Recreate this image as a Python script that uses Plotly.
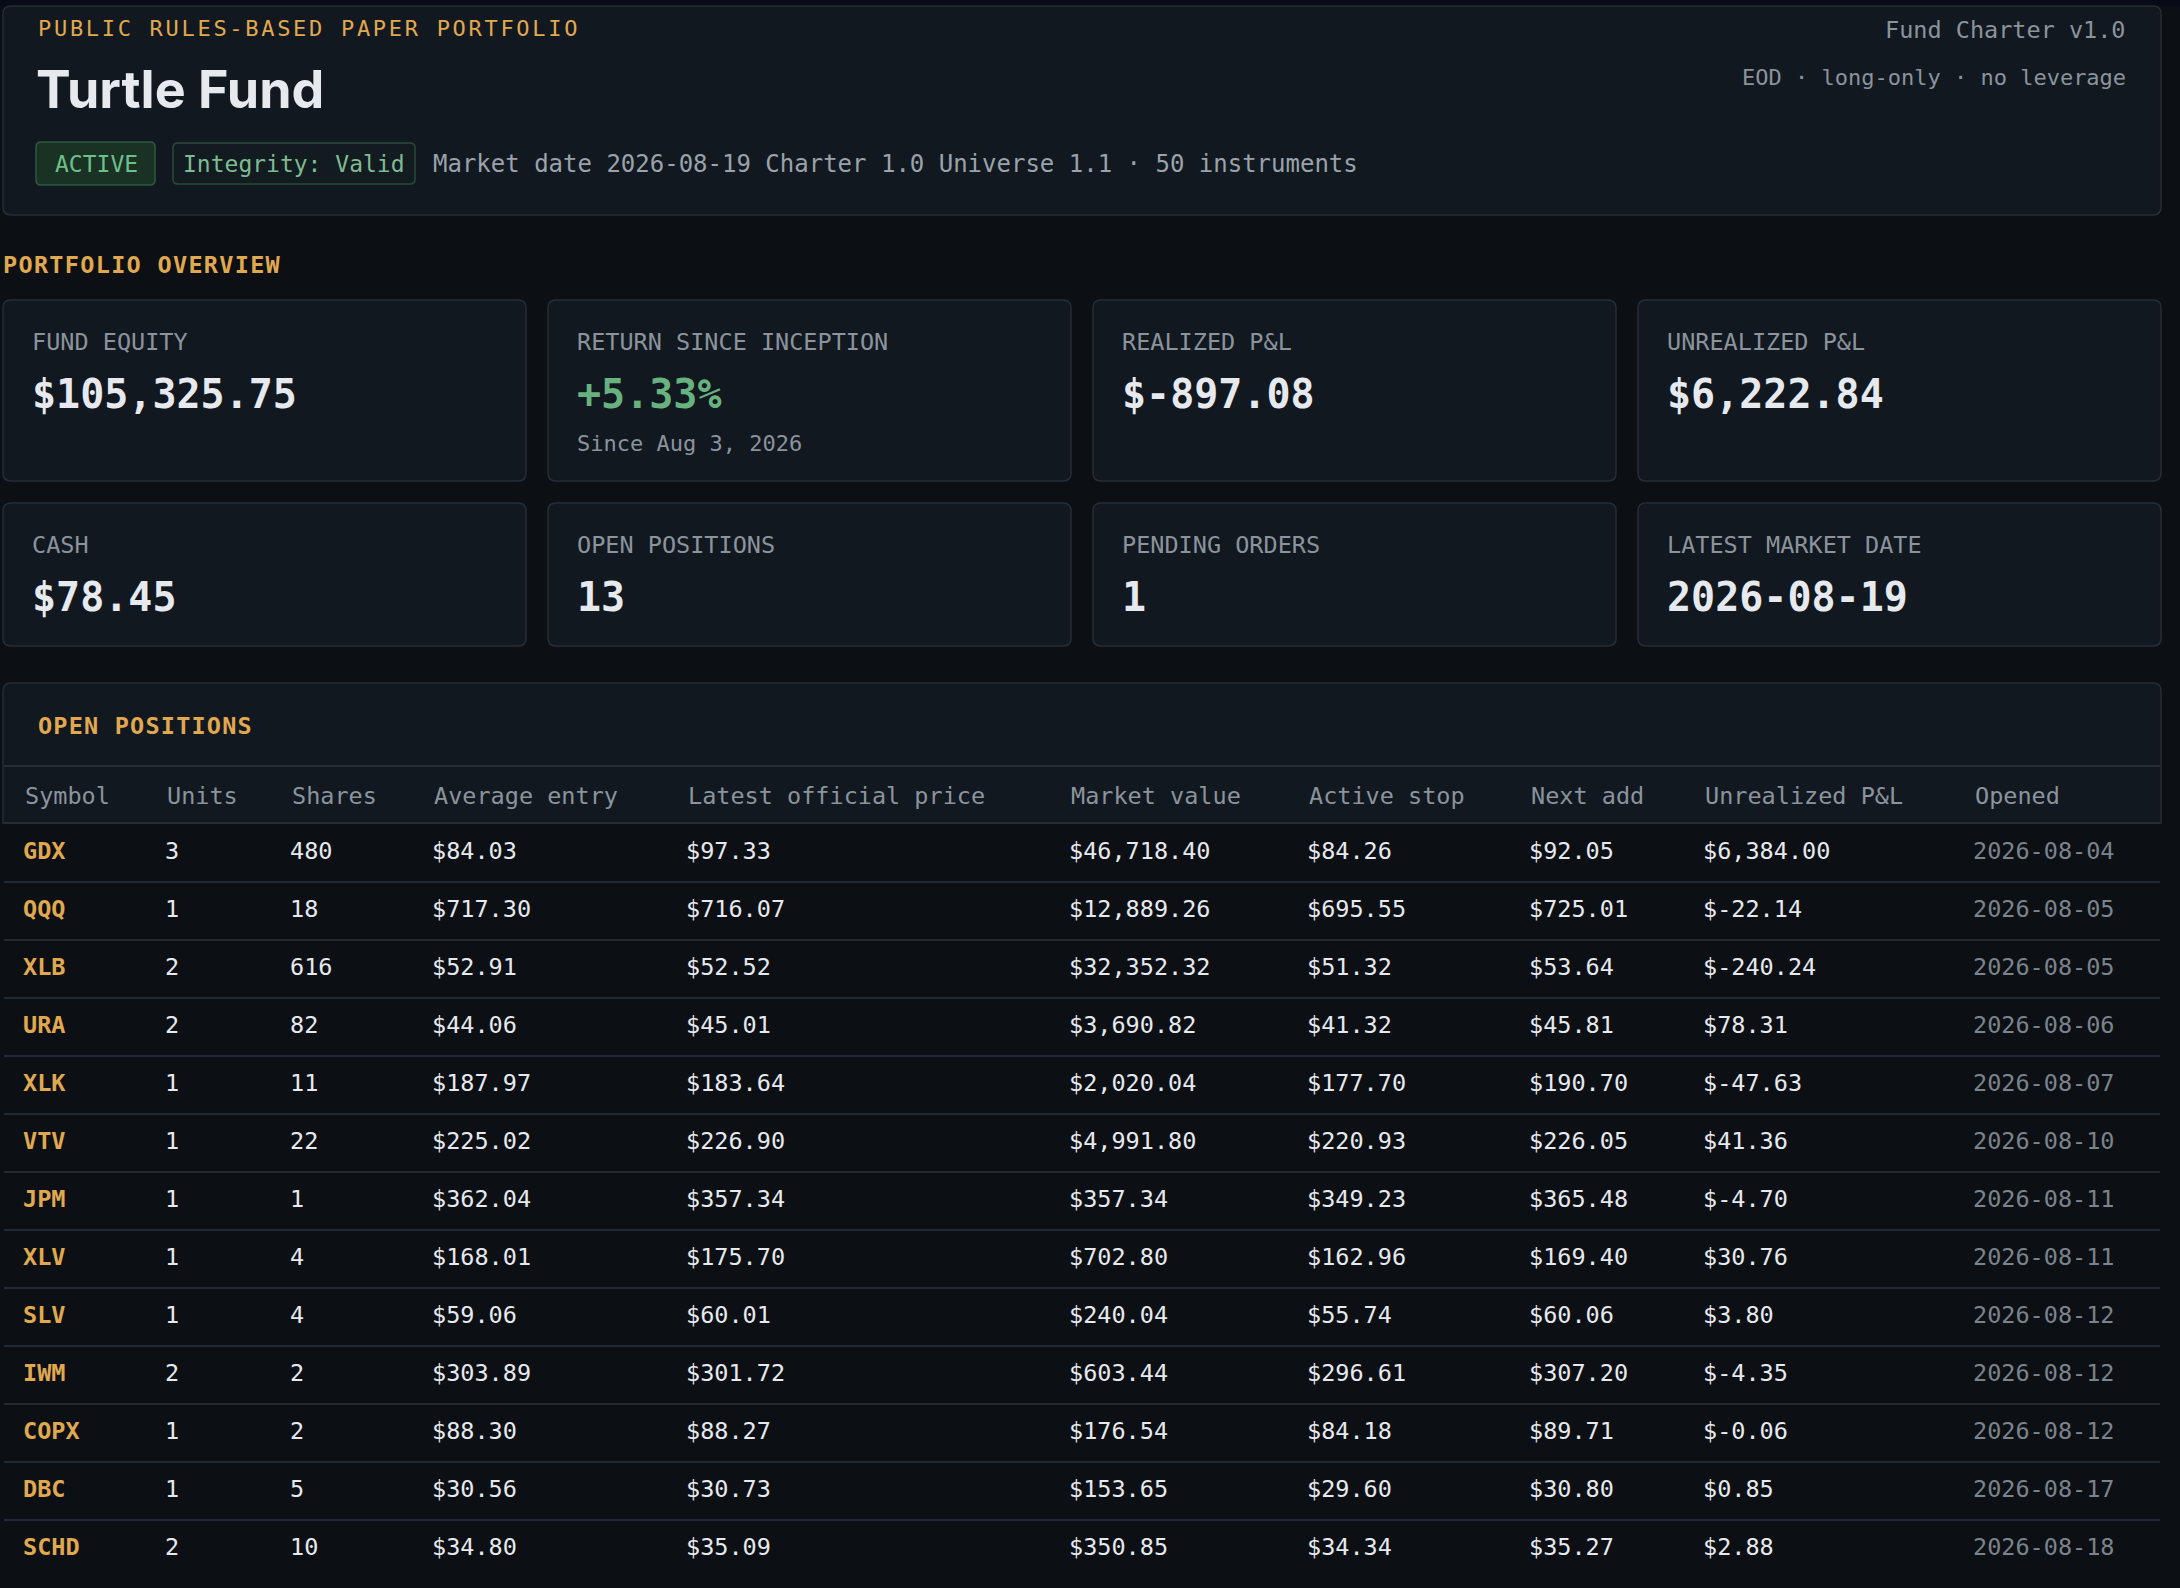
import plotly.graph_objects as go

# ---------------- data ----------------
symbols = ["GDX", "QQQ", "XLB", "URA", "XLK", "VTV", "JPM", "XLV", "SLV", "IWM", "COPX", "DBC", "SCHD"]
units = [3, 1, 2, 2, 1, 1, 1, 1, 1, 2, 1, 1, 2]
shares = [480, 18, 616, 82, 11, 22, 1, 4, 4, 2, 2, 5, 10]
avg_entry = [84.03, 717.30, 52.91, 44.06, 187.97, 225.02, 362.04, 168.01, 59.06, 303.89, 88.30, 30.56, 34.80]
latest_price = [97.33, 716.07, 52.52, 45.01, 183.64, 226.90, 357.34, 175.70, 60.01, 301.72, 88.27, 30.73, 35.09]
market_value = [46718.40, 12889.26, 32352.32, 3690.82, 2020.04, 4991.80, 357.34, 702.80, 240.04, 603.44, 176.54, 153.65, 350.85]
active_stop = [84.26, 695.55, 51.32, 41.32, 177.70, 220.93, 349.23, 162.96, 55.74, 296.61, 84.18, 29.60, 34.34]
next_add = [92.05, 725.01, 53.64, 45.81, 190.70, 226.05, 365.48, 169.40, 60.06, 307.20, 89.71, 30.80, 35.27]
unrealized_pnl = [6384.00, -22.14, -240.24, 78.31, -47.63, 41.36, -4.70, 30.76, 3.80, -4.35, -0.06, 0.85, 2.88]
opened = ["2026-08-04", "2026-08-05", "2026-08-05", "2026-08-06", "2026-08-07", "2026-08-10", "2026-08-11",
          "2026-08-11", "2026-08-12", "2026-08-12", "2026-08-12", "2026-08-17", "2026-08-18"]
columns = ["Symbol", "Units", "Shares", "Average entry", "Latest official price", "Market value",
           "Active stop", "Next add", "Unrealized P&L", "Opened"]

kpi_labels = ["FUND EQUITY", "RETURN SINCE INCEPTION", "REALIZED P&L", "UNREALIZED P&L",
              "CASH", "OPEN POSITIONS", "PENDING ORDERS", "LATEST MARKET DATE"]
kpi_values = ["$105,325.75", "+5.33%", "$-897.08", "$6,222.84", "$78.45", "13", "1", "2026-08-19"]
kpi_sub = ["", "Since Aug 3, 2026", "", "", "", "", "", ""]

eyebrow = "PUBLIC RULES-BASED PAPER PORTFOLIO"
title = "Turtle Fund"
badges = ["ACTIVE", "Integrity: Valid"]
meta_line = "Market date 2026-08-19 Charter 1.0 Universe 1.1 · 50 instruments"
charter = "Fund Charter v1.0"
charter_sub = "EOD · long-only · no leverage"

# ---------------- style ----------------
W, H = 2180, 1588
PAGE = "#0c1014"
CARD = "#121820"
BORDER = "#262d36"
ROWLINE = "#222933"
AMBER = "#e0a94f"
TEXT = "#e6e9ee"
MUTED = "#8b939c"
DIM = "#7b838c"
GREEN = "#6fbf8a"
MONO = "DejaVu Sans Mono"
SANS = "Inter"


def money(v):
    s = f"{abs(v):,.2f}"
    return ("$-" if v < 0 else "$") + s


def rrect(x0, y0, x1, y1, r):
    return (f"M{x0+r},{y0} L{x1-r},{y0} Q{x1},{y0} {x1},{y0+r} L{x1},{y1-r} Q{x1},{y1} {x1-r},{y1} "
            f"L{x0+r},{y1} Q{x0},{y1} {x0},{y1-r} L{x0},{y0+r} Q{x0},{y0} {x0+r},{y0} Z")


shapes = []
annotations = []


def box(x0, y0, x1, y1, fill, line, r=8, width=1.5):
    shapes.append(dict(type="path", path=rrect(x0, y0, x1, y1, r), fillcolor=fill,
                       line=dict(color=line, width=width), xref="x", yref="y", layer="below"))


def text(x, y, s, size, color, family=MONO, anchor="left", bold=False, ls=None):
    if bold:
        s = f"<b>{s}</b>"
    if ls:
        s = f'<span style="letter-spacing:{ls}px">{s}</span>'
    annotations.append(dict(x=x, y=y, xref="x", yref="y", text=s, showarrow=False,
                            xanchor=anchor, yanchor="middle",
                            font=dict(size=size, color=color, family=family)))


# top strip
shapes.append(dict(type="rect", x0=0, x1=W, y0=0, y1=6, fillcolor="#060b17", line=dict(width=0),
                   xref="x", yref="y", layer="below"))

# header card
box(3, 6, 2161, 215, CARD, BORDER)
text(36, 28, eyebrow, 22, AMBER, ls=2.7)
text(34, 89, title, 52, TEXT, family=SANS, bold=True)
box(36, 142, 155, 185, "#193224", "#2c5a3f", r=5)
text(96, 164, badges[0], 23, GREEN, anchor="center")
box(173, 143, 415, 184, "#121b1f", "#2a4a3a", r=5)
text(294, 164, badges[1], 23, "#7fbb92", anchor="center")
text(431, 164, meta_line, 24, "#9aa2ab")
text(2128, 30, charter, 23.5, MUTED, anchor="right")
text(2128, 77, charter_sub, 22, MUTED, anchor="right")

# overview
text(1, 265, "PORTFOLIO OVERVIEW", 23.5, AMBER, bold=True, ls=1.3)
lefts = [3, 548, 1093, 1638]
rows_y = [(300, 481), (503, 646)]
for i, (lab, val, sub) in enumerate(zip(kpi_labels, kpi_values, kpi_sub)):
    r, c = divmod(i, 4)
    x0 = lefts[c]
    y0, y1 = rows_y[r]
    box(x0, y0, x0 + 523, y1, CARD, BORDER)
    text(x0 + 27, y0 + 42, lab, 23.5, MUTED)
    vcol = "#67b27f" if val.startswith("+") else TEXT
    text(x0 + 27, y0 + 94, val, 40, vcol, bold=True)
    if sub:
        text(x0 + 27, y0 + 143, sub, 22, MUTED)

# table card
box(3, 683, 2161, 1577, CARD, BORDER)
text(36, 726, "OPEN POSITIONS", 23.5, AMBER, bold=True, ls=1.2)
for yy in (766, 823):
    shapes.append(dict(type="line", x0=4, x1=2160, y0=yy, y1=yy, xref="x", yref="y",
                       line=dict(color=BORDER, width=2)))
col_x = [23, 165, 290, 432, 686, 1069, 1307, 1529, 1703, 1973]
for cx, name in zip(col_x, columns):
    text(cx, 796, name, 23.5, MUTED)

n = len(symbols)
for i in range(n - 1):
    shapes.append(dict(type="line", x0=4, x1=2160, y0=i + 0.5, y1=i + 0.5, xref="x", yref="y2",
                       line=dict(color=ROWLINE, width=2)))

table_cols = [
    [f"<b>{s}</b>" for s in symbols],
    [str(u) for u in units],
    [str(s) for s in shares],
    [money(v) for v in avg_entry],
    [money(v) for v in latest_price],
    [money(v) for v in market_value],
    [money(v) for v in active_stop],
    [money(v) for v in next_add],
    [money(v) for v in unrealized_pnl],
    opened,
]
col_colors = [AMBER] + [TEXT] * 8 + [DIM]

fig = go.Figure()
for cx, vals, colr in zip(col_x, table_cols, col_colors):
    fig.add_trace(go.Scatter(
        x=[cx] * n, y=list(range(n)), mode="text", text=vals, textposition="middle right",
        textfont=dict(family=MONO, size=23.5, color=colr), yaxis="y2", hoverinfo="skip",
        showlegend=False, cliponaxis=False))

body_top, body_bot = 824, 1578
fig.update_layout(
    width=W, height=H, margin=dict(l=0, r=0, t=0, b=0),
    paper_bgcolor=PAGE, plot_bgcolor=PAGE,
    xaxis=dict(range=[0, W], visible=False, fixedrange=True),
    yaxis=dict(range=[H, 0], visible=False, domain=[0, 1], fixedrange=True),
    yaxis2=dict(range=[n - 0.5, -0.5], visible=False, anchor="x",
                domain=[1 - body_bot / H, 1 - body_top / H], fixedrange=True),
    shapes=shapes, annotations=annotations, showlegend=False,
)
fig.write_html("out.html", config={"displayModeBar": False},
               post_script="document.body.style.margin='0';document.body.style.overflow='hidden';")
